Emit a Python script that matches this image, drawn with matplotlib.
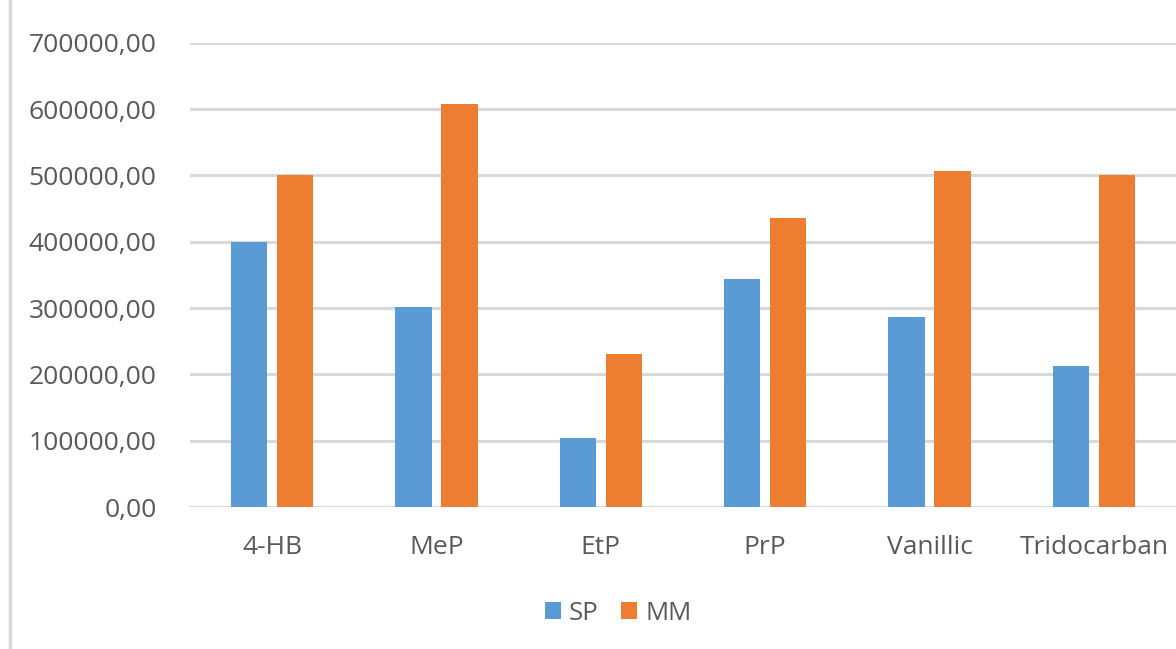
import matplotlib
matplotlib.use("Agg")
import matplotlib.pyplot as plt
from matplotlib.lines import Line2D
import numpy as np

categories = ["4-HB", "MeP", "EtP", "PrP", "Vanillic", "Tridocarban"]
sp_values = [400000, 302000, 104000, 343000, 287000, 212000]
mm_values = [500000, 608000, 231000, 435000, 507000, 500000]
series_names = ["SP", "MM"]
yticks = [0, 100000, 200000, 300000, 400000, 500000, 600000, 700000]

BLUE = "#5b9bd5"
ORANGE = "#ed7d31"
GRID = "#d9d9d9"
TEXT = "#595959"

plt.rcParams["font.family"] = ["Open Sans", "DejaVu Sans"]

W, H = 1176, 649
fig = plt.figure(figsize=(W / 100, H / 100), dpi=100)
fig.patch.set_facecolor("white")

left, right = 190 / W, 1.0
bottom, top = (H - 507) / H, (H - 42.7) / H
ax = fig.add_axes([left, bottom, right - left, top - bottom])

x = np.arange(len(categories))
bw = 0.22
off = 0.14
ax.bar(x - off, sp_values, width=bw, color=BLUE, label=series_names[0], zorder=3)
ax.bar(x + off, mm_values, width=bw, color=ORANGE, label=series_names[1], zorder=3)

ax.set_xlim(-0.5, len(categories) - 0.5)
ax.set_ylim(0, 700000)
ax.set_yticks(yticks)
ax.set_yticklabels([f"{v:.2f}".replace(".", ",") for v in yticks])
ax.set_xticks(x)
ax.set_xticklabels(categories)

ax.yaxis.grid(True, color=GRID, linewidth=2.2, zorder=0)
ax.set_axisbelow(True)
for s in ax.spines.values():
    s.set_visible(False)
ax.tick_params(axis="both", length=0, colors=TEXT, labelsize=19)
ax.tick_params(axis="y", pad=24)
ax.tick_params(axis="x", pad=20)

# chart border on the left
fig.add_artist(Line2D([10 / W, 10 / W], [0, 1], transform=fig.transFigure,
                      color=GRID, linewidth=2.5))

fig.legend(loc="center", bbox_to_anchor=(618 / W, (H - 613) / H), ncol=2,
           frameon=False, fontsize=18.5, labelcolor=TEXT,
           handlelength=0.65, handleheight=0.65, handletextpad=0.3,
           columnspacing=0.85)

fig.savefig("out.png", dpi=100, facecolor="white")
